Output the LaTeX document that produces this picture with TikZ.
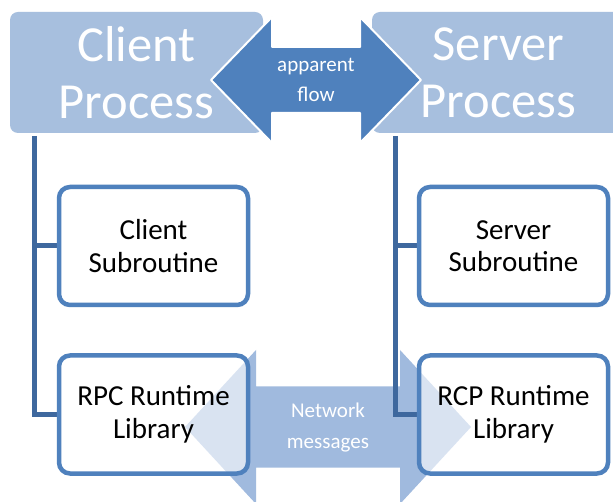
\documentclass[tikz,border=0pt]{standalone}
\usepackage{fontspec}
\setmainfont{Carlito}
\definecolor{procfill}{RGB}{167,191,222}
\definecolor{accent}{RGB}{79,129,189}
\definecolor{connblue}{RGB}{62,104,158}
\definecolor{netfill}{RGB}{160,186,222}
\pgfdeclarelayer{bg}
\pgfsetlayers{bg,main}
\begin{document}
\begin{tikzpicture}[x=1pt,y=-1pt,
  procbox/.style={draw=none, fill=procfill, rounded corners=8pt, minimum width=253pt, minimum height=121pt, inner sep=0pt, text=white, align=center, font=\fontsize{50.5}{57}\selectfont},
  subbox/.style={draw=accent, line width=4.5pt, fill=white, rounded corners=11pt, minimum width=189pt, minimum height=118pt, inner sep=0pt, align=center, font=\fontsize{29}{32.5}\selectfont},
  seethrough/.style={fill opacity=0.6, text opacity=1},
  arrowtext/.style={text=white, align=center, font=\fontsize{21}{30.5}\selectfont, inner sep=0pt},
  conn/.style={draw=connblue, line width=5pt}]
\useasboundingbox (0,0) rectangle (613,502);
\clip (0,0) rectangle (613,502);
% process boxes
\node[procbox] (cp) at (136.5,72.5) {Client\\Process};
\node[procbox] (sp) at (498.5,72.5) {Server\\Process};
% apparent flow arrow
\filldraw[fill=accent, draw=white, line width=2pt, line join=round]
  (211,80) -- (272,17) -- (272,47) -- (360,47) -- (360,17) -- (421,80)
  -- (360,143) -- (360,113) -- (272,113) -- (272,143) -- cycle;
\node[arrowtext] (af) at (316,80) {apparent\\flow};
% boxes
\node[subbox] (cs) at (153.5,246) {Client\\Subroutine};
\node[subbox] (ss) at (513.5,246) {Server\\Subroutine};
\node[subbox, seethrough] (rpc) at (153.5,414.5) {RPC Runtime\\Library};
\node[subbox, seethrough] (rcp) at (513.5,414.5) {RCP Runtime\\Library};
\coordinate (ltop) at (34.5,136);
\coordinate (rtop) at (395,136);
\begin{pgfonlayer}{bg}
\fill[white] (0,0) rectangle (613,502);
% network messages arrow
\fill[netfill]
  (185,427) -- (256,350) -- (256,386.5) -- (400,386.5) -- (400,350) -- (471,427)
  -- (400,504) -- (400,467.5) -- (256,467.5) -- (256,504) -- cycle;
% connectors
\draw[conn] (ltop) |- (rpc.west);
\draw[conn] (ltop |- cs.west) -- (cs.west);
\draw[conn] (rtop) |- (rcp.west);
\draw[conn] (rtop |- ss.west) -- (ss.west);
\end{pgfonlayer}
\node[arrowtext] (nm) at (328,427.5) {Network\\messages};
\end{tikzpicture}
\end{document}
